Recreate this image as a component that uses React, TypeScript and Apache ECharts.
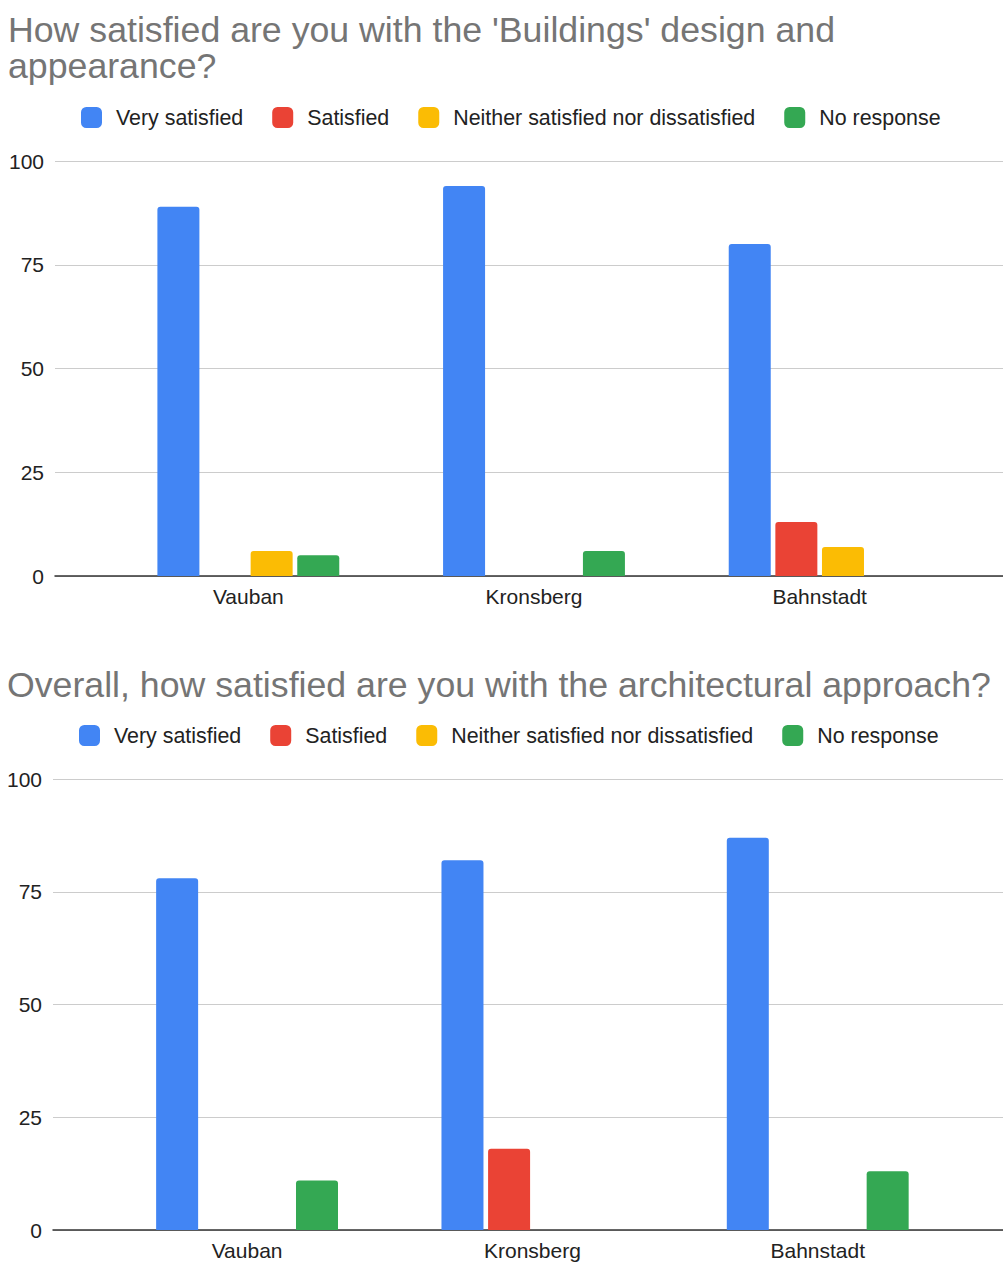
import React, { useEffect, useRef } from "react";
import * as echarts from "echarts";

const categories = ["Vauban", "Kronsberg", "Bahnstadt"];
const seriesNames = ["Very satisfied", "Satisfied", "Neither satisfied nor dissatisfied", "No response"];
const colors = ["#4285F4", "#EA4335", "#FBBC04", "#34A853"];
const yTicks = [0, 25, 50, 75, 100];

const title1 = "How satisfied are you with the 'Buildings' design and\nappearance?";
const title2 = "Overall, how satisfied are you with the architectural approach?";

// Chart 1: Buildings design and appearance
const c1VerySatisfied = [89, 94, 80];
const c1Satisfied = [0, 0, 13];
const c1Neither = [6, 0, 7];
const c1NoResponse = [5, 6, 0];

// Chart 2: architectural approach
const c2VerySatisfied = [78, 82, 87];
const c2Satisfied = [0, 18, 0];
const c2Neither = [0, 0, 0];
const c2NoResponse = [11, 0, 13];

const FONT = "'Liberation Sans', Arial, sans-serif";

export default function App() {
  const ref = useRef<HTMLDivElement>(null);

  useEffect(() => {
    if (!ref.current) return;
    const chart = echarts.init(ref.current, undefined, { renderer: "svg" });

    const chart1Data = [c1VerySatisfied, c1Satisfied, c1Neither, c1NoResponse];
    const chart2Data = [c2VerySatisfied, c2Satisfied, c2Neither, c2NoResponse];

    const makeSeries = (data: number[][], axisIdx: number) =>
      data.map((vals, i) => ({
        name: seriesNames[i],
        type: "bar",
        xAxisIndex: axisIdx,
        yAxisIndex: axisIdx,
        data: vals,
        barWidth: 42,
        barGap: "11%",
        itemStyle: { color: colors[i], borderRadius: [3, 3, 0, 0] },
      }));

    const legendBase = {
      orient: "horizontal",
      padding: 0,
      itemWidth: 21,
      itemHeight: 21,
      itemGap: 29,
      icon: "roundRect",
      textStyle: { fontSize: 21.4, color: "#222", fontFamily: FONT, padding: [0, 0, 0, 9] },
      data: seriesNames,
    };

    const valueAxisVisible = (grid: number) => ({
      gridIndex: grid,
      type: "value",
      min: yTicks[0],
      max: yTicks[yTicks.length - 1],
      interval: 25,
      axisLine: { show: false },
      axisTick: { show: false },
      axisLabel: { fontSize: 21, color: "#222", fontFamily: FONT, margin: 11 },
      splitLine: { lineStyle: { color: "#cccccc", width: 1 } },
    });
    const valueAxisHidden = (grid: number) => ({
      gridIndex: grid,
      type: "value",
      min: yTicks[0],
      max: yTicks[yTicks.length - 1],
      interval: 25,
      show: false,
      splitLine: { show: false },
    });
    const baseXAxis = (grid: number) => ({
      gridIndex: grid,
      type: "category",
      data: [""],
      axisLine: { show: true, lineStyle: { color: "#333", width: 1.5 } },
      axisTick: { show: false },
      axisLabel: { show: false },
    });
    const catXAxis = (grid: number) => ({
      gridIndex: grid,
      type: "category",
      data: categories,
      axisLine: { show: false },
      axisTick: { show: false },
      axisLabel: { fontSize: 21, color: "#222", fontFamily: FONT, margin: 10 },
    });

    const titleStyle = {
      fontSize: 35.7,
      fontWeight: "normal",
      color: "#757575",
      fontFamily: FONT,
      lineHeight: 36,
    };

    chart.setOption({
      animation: false,
      backgroundColor: "#ffffff",
      title: [
        { text: title1, left: 8, top: 12, padding: 0, textStyle: titleStyle },
        { text: title2, left: 7, top: 667, padding: 0, textStyle: titleStyle },
      ],
      legend: [
        { ...legendBase, left: 81, top: 107 },
        { ...legendBase, left: 79, top: 725 },
      ],
      grid: [
        { left: 55, top: 161, width: 948, height: 415 },
        { left: 105.5, top: 161, width: 857, height: 415 },
        { left: 53, top: 779, width: 950, height: 451 },
        { left: 104.4, top: 779, width: 856, height: 451 },
      ],
      xAxis: [baseXAxis(0), catXAxis(1), baseXAxis(2), catXAxis(3)],
      yAxis: [valueAxisVisible(0), valueAxisHidden(1), valueAxisVisible(2), valueAxisHidden(3)],
      series: [...makeSeries(chart1Data, 1), ...makeSeries(chart2Data, 3)],
    });

    return () => chart.dispose();
  }, []);

  return (
    <div
      ref={ref}
      style={{ position: "absolute", left: 0, top: 0, width: 1003, height: 1264, background: "#fff" }}
    />
  );
}
